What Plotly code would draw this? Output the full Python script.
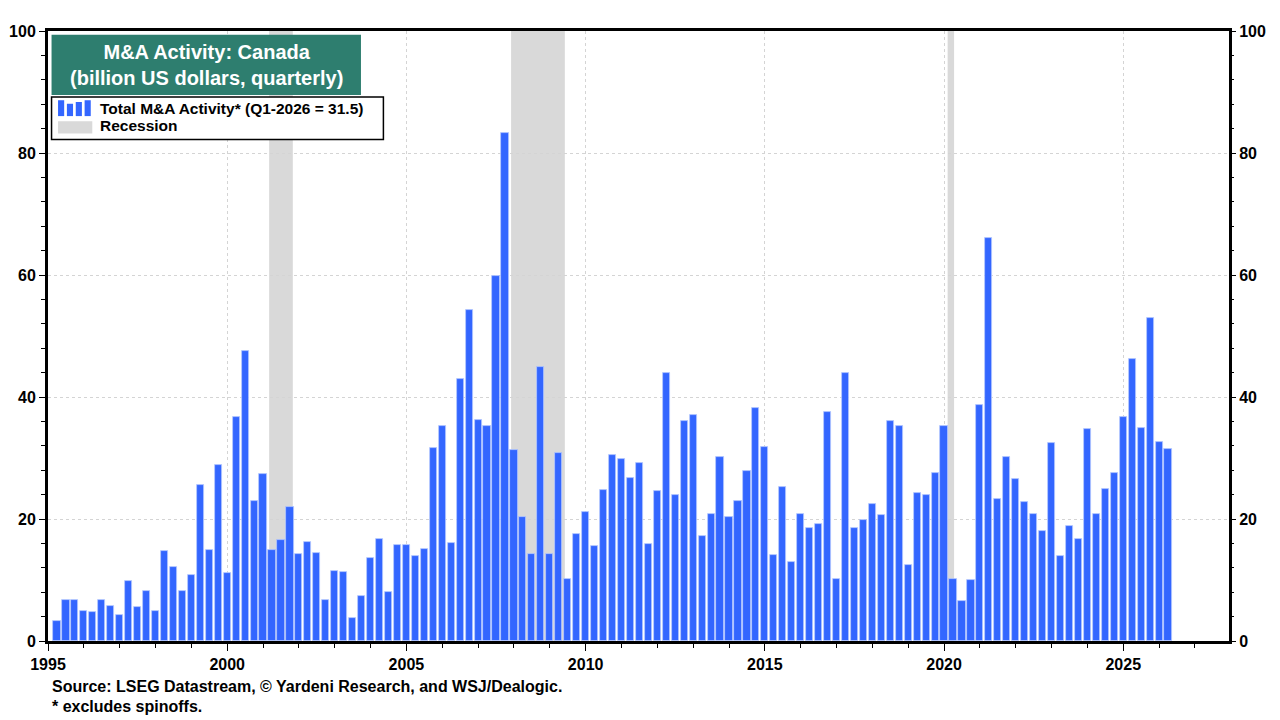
import plotly.graph_objects as go

# quarterly M&A activity, Canada, billion US$ (Q1-1995 .. Q1-2026)
first_year = 1995
values = [
    3.3, 6.8, 6.7, 5.0,      # 1995
    4.8, 6.8, 5.8, 4.3,      # 1996
    9.8, 5.5, 8.2, 5.0,      # 1997
    14.8, 12.2, 8.2, 10.8,   # 1998
    25.5, 15.0, 28.8, 11.2,  # 1999
    36.7, 47.5, 22.9, 27.3,  # 2000
    15.0, 16.5, 22.0, 14.3,  # 2001
    16.2, 14.5, 6.7, 11.5,   # 2002
    11.3, 3.8, 7.4, 13.6,    # 2003
    16.8, 8.1, 15.7, 15.7,   # 2004
    13.9, 15.1, 31.7, 35.2,  # 2005
    16.0, 43.0, 54.3, 36.3,  # 2006
    35.2, 59.8, 83.2, 31.3,  # 2007
    20.4, 14.3, 45.0, 14.3,  # 2008
    30.9, 10.2, 17.6, 21.2,  # 2009
    15.5, 24.8, 30.5, 29.8,  # 2010
    26.8, 29.1, 15.9, 24.6,  # 2011
    43.9, 23.9, 36.1, 37.0,  # 2012
    17.2, 20.9, 30.1, 20.4,  # 2013
    23.0, 27.8, 38.2, 31.8,  # 2014
    14.1, 25.2, 12.9, 20.9,  # 2015
    18.6, 19.2, 37.5, 10.2,  # 2016
    44.0, 18.6, 19.8, 22.5,  # 2017
    20.7, 36.1, 35.2, 12.4,  # 2018
    24.2, 24.0, 27.6, 35.2,  # 2019
    10.2, 6.5, 10.0, 38.7,   # 2020
    66.1, 23.2, 30.2, 26.5,  # 2021
    22.8, 20.9, 18.1, 32.5,  # 2022
    13.9, 18.9, 16.8, 34.8,  # 2023
    20.9, 24.9, 27.6, 36.8,  # 2024
    46.2, 35.0, 52.9, 32.6,  # 2025
    31.5,                    # 2026
]

# recessions (decimal years)
rec_start = [2001.17, 2007.92, 2020.10]
rec_end = [2001.83, 2009.42, 2020.28]

x_ticks = [1995, 2000, 2005, 2010, 2015, 2020, 2025]
y_ticks = [0, 20, 40, 60, 80, 100]

# bars sit at end of each quarter
xq = [first_year + (i + 1) * 0.25 for i in range(len(values))]

FONT = "Liberation Sans, Arial, sans-serif"
BLUE = "#3366FF"
GREEN = "#2E7E6F"

fig = go.Figure()
fig.add_trace(go.Bar(
    x=xq, y=values, width=0.2,
    marker=dict(color=BLUE, line=dict(color="#B5C8FF", width=0.8)),
    showlegend=False, hoverinfo="x+y",
))
# invisible trace so the right axis is drawn
fig.add_trace(go.Scatter(x=[xq[0]], y=[0], yaxis="y2", mode="markers",
                         marker=dict(opacity=0), showlegend=False, hoverinfo="skip"))

shapes = []
for s, e in zip(rec_start, rec_end):
    shapes.append(dict(type="rect", xref="x", yref="paper", x0=s, x1=e, y0=0, y1=1,
                       fillcolor="#D9D9D9", line=dict(width=0), layer="below"))

# title box
shapes.append(dict(type="rect", xref="paper", yref="paper", x0=0.003, x1=0.265,
                   y0=0.895, y1=0.994, fillcolor=GREEN, line=dict(width=0)))
# legend box
shapes.append(dict(type="rect", xref="paper", yref="paper", x0=0.003, x1=0.284,
                   y0=0.822, y1=0.892, fillcolor="white", line=dict(color="black", width=1.5)))
# legend icon: small bars
for k, h in enumerate([0.9, 0.7, 0.8, 0.9]):
    x0 = 0.0085 + k * 0.0075
    shapes.append(dict(type="rect", xref="paper", yref="paper", x0=x0, x1=x0 + 0.0052,
                       y0=0.8605, y1=0.8605 + 0.026 * h / 0.9, fillcolor=BLUE,
                       line=dict(width=0)))
# legend icon: recession
shapes.append(dict(type="rect", xref="paper", yref="paper", x0=0.0085, x1=0.0375,
                   y0=0.832, y1=0.852, fillcolor="#D9D9D9", line=dict(width=0)))

annotations = [
    dict(text="M&A Activity: Canada<br>(billion US dollars, quarterly)", xref="paper", yref="paper",
         x=0.134, y=0.945, xanchor="center", yanchor="middle", showarrow=False,
         font=dict(family=FONT, size=20, color="white", weight="bold"), align="center"),
    dict(text="Total M&A Activity* (Q1-2026 = 31.5)", xref="paper", yref="paper",
         x=0.0425, y=0.873, xanchor="left", yanchor="middle", showarrow=False,
         font=dict(family=FONT, size=15.5, color="black", weight="bold")),
    dict(text="Recession", xref="paper", yref="paper",
         x=0.0425, y=0.845, xanchor="left", yanchor="middle", showarrow=False,
         font=dict(family=FONT, size=15.5, color="black", weight="bold")),
    dict(text="Source: LSEG Datastream, \u00a9 Yardeni Research, and WSJ/Dealogic.", xref="paper", yref="paper",
         x=0.002, y=-0.074, xanchor="left", yanchor="middle", showarrow=False,
         font=dict(family=FONT, size=16, color="black", weight="bold")),
    dict(text="* excludes spinoffs.", xref="paper", yref="paper",
         x=0.002, y=-0.107, xanchor="left", yanchor="middle", showarrow=False,
         font=dict(family=FONT, size=16, color="black", weight="bold")),
]

tickfont = dict(family=FONT, size=16, color="black", weight="bold")
yaxis_common = dict(
    range=[0, 100], tickvals=y_ticks, tickfont=tickfont,
    ticks="outside", ticklen=6, tickcolor="black", tickwidth=1,
    minor=dict(dtick=4, tick0=0, ticks="outside", ticklen=4, tickcolor="black", showgrid=False),
    zeroline=False, fixedrange=True, automargin=False,
)

fig.update_layout(
    width=1280, height=720,
    margin=dict(l=48, r=51, t=31, b=79),
    paper_bgcolor="white", plot_bgcolor="white",
    bargap=0,
    shapes=shapes, annotations=annotations,
    xaxis=dict(
        range=[1995, 2027.95], tickvals=x_ticks, tickfont=tickfont,
        ticks="outside", ticklen=7, tickcolor="black", tickwidth=1,
        minor=dict(dtick=1, tick0=1995, ticks="outside", ticklen=4, tickcolor="black", showgrid=False),
        showgrid=True, gridcolor="#D4D4D4", griddash="dot", gridwidth=1,
        showline=True, linecolor="black", linewidth=3, mirror=True,
        zeroline=False, automargin=False,
    ),
    yaxis=dict(
        **yaxis_common,
        showgrid=True, gridcolor="#D4D4D4", griddash="dot", gridwidth=1,
        showline=True, linecolor="black", linewidth=3, mirror=True,
    ),
    yaxis2=dict(
        **yaxis_common,
        overlaying="y", side="right", showgrid=False,
        showline=False,
    ),
)

# drop the browser's default page margin so the figure fills the window
fig.write_html("out.html", config={"displayModeBar": False},
               post_script="document.body.style.margin='0';")
